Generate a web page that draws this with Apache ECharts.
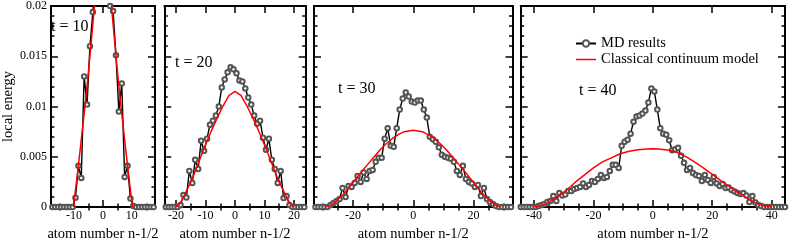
<!DOCTYPE html>
<html><head><meta charset="utf-8">
<script src="https://cdn.jsdelivr.net/npm/echarts@6/dist/echarts.min.js"></script>
<style>html,body{margin:0;padding:0;background:#fff}#c{width:789px;height:247px}</style>
</head><body><div id="c"></div>
<script>
// ---- data (x = atom number n - 1/2, starting at the given value, step 1) ----
const md10Start = -17.5;
const md10 = [0,0,0,0,0,0,0,0,
  0.00094,0.0041,0.0029,0.0130,0.0102,0.0160,0.0194,0.0235,0.0265,0.0280,
  0.0275,0.0240,0.0200,0.0195,0.0151,0.0095,0.0123,0.0030,0.0041,0.00085,
  0.0001,0,0,0,0,0,0,0];
const md20Start = -23.5;
const md20 = [0,0,0,0,0,
  0.0002,0.0012,0.00095,0.0036,0.0024,0.0047,0.0038,0.0066,0.0056,0.0068,
  0.0082,0.0086,0.0091,0.0100,0.0119,0.0127,0.0134,0.0139,0.0137,0.0133,
  0.0126,0.0125,0.0118,0.0109,0.0102,0.0091,0.0083,0.0086,0.0069,0.0057,
  0.0068,0.0047,0.0038,0.0024,0.0036,0.0009,0.0011,0.0002,
  0,0,0,0,0];
const md30Start = -32.5;
const md30 = [0,0,0,0,0,
  0.0002,0.0004,0.0006,0.0008,0.0019,0.0010,0.0021,0.0020,0.0024,0.0031,
  0.0025,0.00345,0.0028,0.0036,0.0037,0.0045,0.0049,0.0049,0.0068,0.00785,
  0.0061,0.0060,0.00785,0.0097,0.0108,0.0114,0.0110,0.0105,0.0104,0.0106,
  0.0106,0.0097,0.0089,0.0070,0.00675,0.0065,0.00595,0.0052,0.0050,0.0049,
  0.0048,0.0045,0.0036,0.0032,0.0041,0.0028,0.0025,0.00235,0.0020,0.0022,
  0.0011,0.0019,0.0008,0.0005,0.0003,0.0001,
  0,0,0,0,0];
const md40Start = -44.5;
const md40 = [0,0,0,0,0,0,
  0.0001,0.0002,0.0003,0.0005,0.0006,0.0011,0.0006,0.0014,0.00115,0.00125,
  0.0016,0.0016,0.0018,0.0019,0.0020,0.00235,0.0020,0.0022,0.0026,0.0025,
  0.0028,0.0032,0.0029,0.0030,0.0036,0.0042,0.0042,0.0039,0.0061,0.0065,
  0.0067,0.0073,0.0085,0.0090,0.0091,0.0093,0.0096,0.0104,0.0118,0.0115,
  0.0097,0.00785,0.0073,0.0072,0.00665,0.00565,0.00575,0.0059,0.0051,0.0044,
  0.0037,0.0039,0.0034,0.0032,0.0031,0.0026,0.0032,0.0027,0.0024,0.0030,
  0.00235,0.0021,0.0023,0.0019,0.00195,0.0017,0.00155,0.0014,0.0013,0.0014,
  0.00115,0.0005,0.0011,0.00045,0.0002,0.0001,
  0,0,0,0,0,0,0,0];

const red10 = [[-10.2,0],[-9,0.0029],[-8,0.0054],[-7,0.0080],[-6,0.0106],[-5,0.0135],[-4,0.0166],[-3,0.0198],[-2,0.023],[-1,0.026],[0,0.027],[1,0.026],[2,0.023],[3,0.0198],[4,0.0166],[5,0.0135],[6,0.0106],[7,0.0080],[8,0.0054],[9,0.0029],[10.2,0]];
const red20 = [[-20,0],[-19,0.00025],[-18,0.0007],[-17,0.0013],[-16,0.0019],[-15,0.0025],[-14,0.0032],[-12,0.0047],[-10,0.0062],[-8,0.0076],[-6,0.0089],[-4,0.0101],[-2,0.0111],[0,0.0115],[2,0.0111],[4,0.0101],[6,0.0089],[8,0.0076],[10,0.0062],[12,0.0047],[14,0.0032],[15,0.0025],[16,0.0019],[17,0.0013],[18,0.0007],[19,0.00025],[20,0]];
const red30 = [[-29,0],[-27,0.00025],[-25,0.00075],[-23,0.00135],[-21,0.0021],[-19,0.00285],[-17,0.0036],[-15,0.0043],[-13,0.0050],[-11,0.0057],[-9,0.0063],[-7,0.0068],[-5,0.0072],[-3,0.0075],[-1,0.0076],[0,0.00765],[1,0.0076],[3,0.0075],[5,0.0072],[7,0.0068],[9,0.0063],[11,0.0057],[13,0.0050],[15,0.0043],[17,0.0036],[19,0.00285],[21,0.0021],[23,0.00135],[25,0.00075],[27,0.00025],[29,0]];
const red40 = [[-40,0],[-37,0.0002],[-35,0.0005],[-32,0.0011],[-29,0.0017],[-26,0.0025],[-23,0.0032],[-20,0.0039],[-17,0.0045],[-14,0.0049],[-11,0.0053],[-8,0.00555],[-5,0.0057],[-2,0.00578],[0,0.0058],[2,0.00578],[5,0.00568],[8,0.00545],[11,0.00505],[14,0.0045],[17,0.0039],[20,0.00325],[23,0.0026],[26,0.0020],[29,0.0014],[32,0.00085],[35,0.00035],[38,0.00008],[40,0]];

// ---- ticks / labels ----
const yTickLabels = ['0','0.005','0.01','0.015','0.02'];
const xMajor10 = [-10,0,10],  xMinor10 = [-15,-5,5,15];
const xMajor20 = [-20,-10,0,10,20], xMinor20 = [-15,-5,5,15];
const xMajor30 = [-20,0,20], xMinor30 = [-30,-25,-15,-10,-5,5,10,15,25,30];
const xMajor40 = [-40,-20,0,20,40], xMinor40 = [-35,-30,-25,-15,-10,-5,5,10,15,25,30,35];
const timeLabels = ['t = 10','t = 20','t = 30','t = 40'];
const xName = 'atom number n-1/2';
const yName = 'local energy';
const mdName = 'MD results';
const redName = 'Classical continuum model';

// ---- layout ----
const panels = [
  {md: md10, start: md10Start, red: red10, min:-18, max:18, major:xMajor10, minor:xMinor10, left:49, width:106, tx:51, ty:27},
  {md: md20, start: md20Start, red: red20, min:-24, max:24, major:xMajor20, minor:xMinor20, left:164.3, width:141.4, tx:175, ty:63},
  {md: md30, start: md30Start, red: red30, min:-33, max:33, major:xMajor30, minor:xMinor30, left:314, width:198.5, tx:338, ty:89},
  {md: md40, start: md40Start, red: red40, min:-44.5, max:44.5, major:xMajor40, minor:xMinor40, left:520.7, width:264.3, tx:579, ty:91}
];

const FF = '"Liberation Serif","Times New Roman",serif';
const lineCol = '#000';
const grids=[], xAxes=[], yAxes=[], series=[], graphics=[];
panels.forEach((p,i)=>{
  grids.push({left:p.left, top:6, width:p.width, height:212.3});
  const base = {gridIndex:i, type:'value', min:p.min, max:p.max, splitLine:{show:false}};
  const al = {show:true, onZero:false, lineStyle:{color:lineCol, width:2}};
  const tMaj = {show:true, inside:true, length:7, customValues:p.major, lineStyle:{color:lineCol, width:1.5}};
  const tMin = {show:true, inside:true, length:3.5, customValues:p.minor, lineStyle:{color:lineCol, width:1.5}};
  xAxes.push(Object.assign({}, base, {position:'bottom', axisLine:al, axisTick:tMaj,
    axisLabel:{customValues:p.major, margin:3, color:'#000', fontFamily:FF, fontSize:12, formatter:v=>String(v)},
    name:xName, nameLocation:'middle', nameGap:13,
    nameTextStyle:{color:'#000', fontFamily:FF, fontSize:14.5}}));
  xAxes.push(Object.assign({}, base, {position:'bottom', axisLine:{show:false}, axisTick:tMin, axisLabel:{show:false}}));
  xAxes.push(Object.assign({}, base, {position:'top', axisLine:al, axisTick:tMaj, axisLabel:{show:false}}));
  xAxes.push(Object.assign({}, base, {position:'top', axisLine:{show:false}, axisTick:tMin, axisLabel:{show:false}}));
  const ybase = {gridIndex:i, type:'value', min:0, max:0.02, interval:0.005, splitLine:{show:false},
    axisLine:al, axisTick:{show:true, inside:true, length:7, lineStyle:{color:lineCol, width:1.5}},
    minorTick:{show:true, splitNumber:5, length:3.5, lineStyle:{color:lineCol, width:1.5}}, minorSplitLine:{show:false}};
  const yl = Object.assign({}, ybase, {position:'left'});
  if (i===0) {
    yl.axisLabel = {show:true, margin:4, color:'#000', fontFamily:FF, fontSize:12, formatter:(v,idx)=>yTickLabels[idx]};
    yl.name = yName; yl.nameLocation='middle'; yl.nameGap=32;
    yl.nameTextStyle = {color:'#000', fontFamily:FF, fontSize:14.5};
  } else {
    yl.axisLabel = {show:false};
  }
  yAxes.push(yl);
  yAxes.push(Object.assign({}, ybase, {position:'right', axisLabel:{show:false}}));
  series.push({type:'line', name:mdName, xAxisIndex:4*i, yAxisIndex:2*i,
    data:p.md.map((v,k)=>[p.start+k, v]), symbol:'emptyCircle', symbolSize:4.5, showAllSymbol:true,
    itemStyle:{color:'#555', borderWidth:0.6}, lineStyle:{color:'#000', width:1.4}, clip:true, z:2});
  series.push({type:'line', name:redName, xAxisIndex:4*i, yAxisIndex:2*i,
    data:p.red, symbol:'none', lineStyle:{color:'#ff0000', width:1.5}, itemStyle:{color:'#ff0000'}, clip:true, z:3});
  graphics.push({type:'text', x:p.tx, y:p.ty, z:10, style:{text:timeLabels[i], fill:'#000', fontFamily:FF, fontSize:16, verticalAlign:'middle', align:'left'}});
});

const chart = echarts.init(document.getElementById('c'), null, {renderer:'canvas'});
chart.setOption({
  animation:false,
  backgroundColor:'#fff',
  grid:grids, xAxis:xAxes, yAxis:yAxes, series:series, graphic:graphics,
  legend:{data:[{name:mdName}, {name:redName, icon:'path://M0,0L40,0L40,3L0,3Z'}],
    orient:'vertical', left:575, top:36, padding:0, itemWidth:20, itemHeight:8, itemGap:1,
    textStyle:{color:'#000', fontFamily:FF, fontSize:14.5}}
});
</script></body></html>
